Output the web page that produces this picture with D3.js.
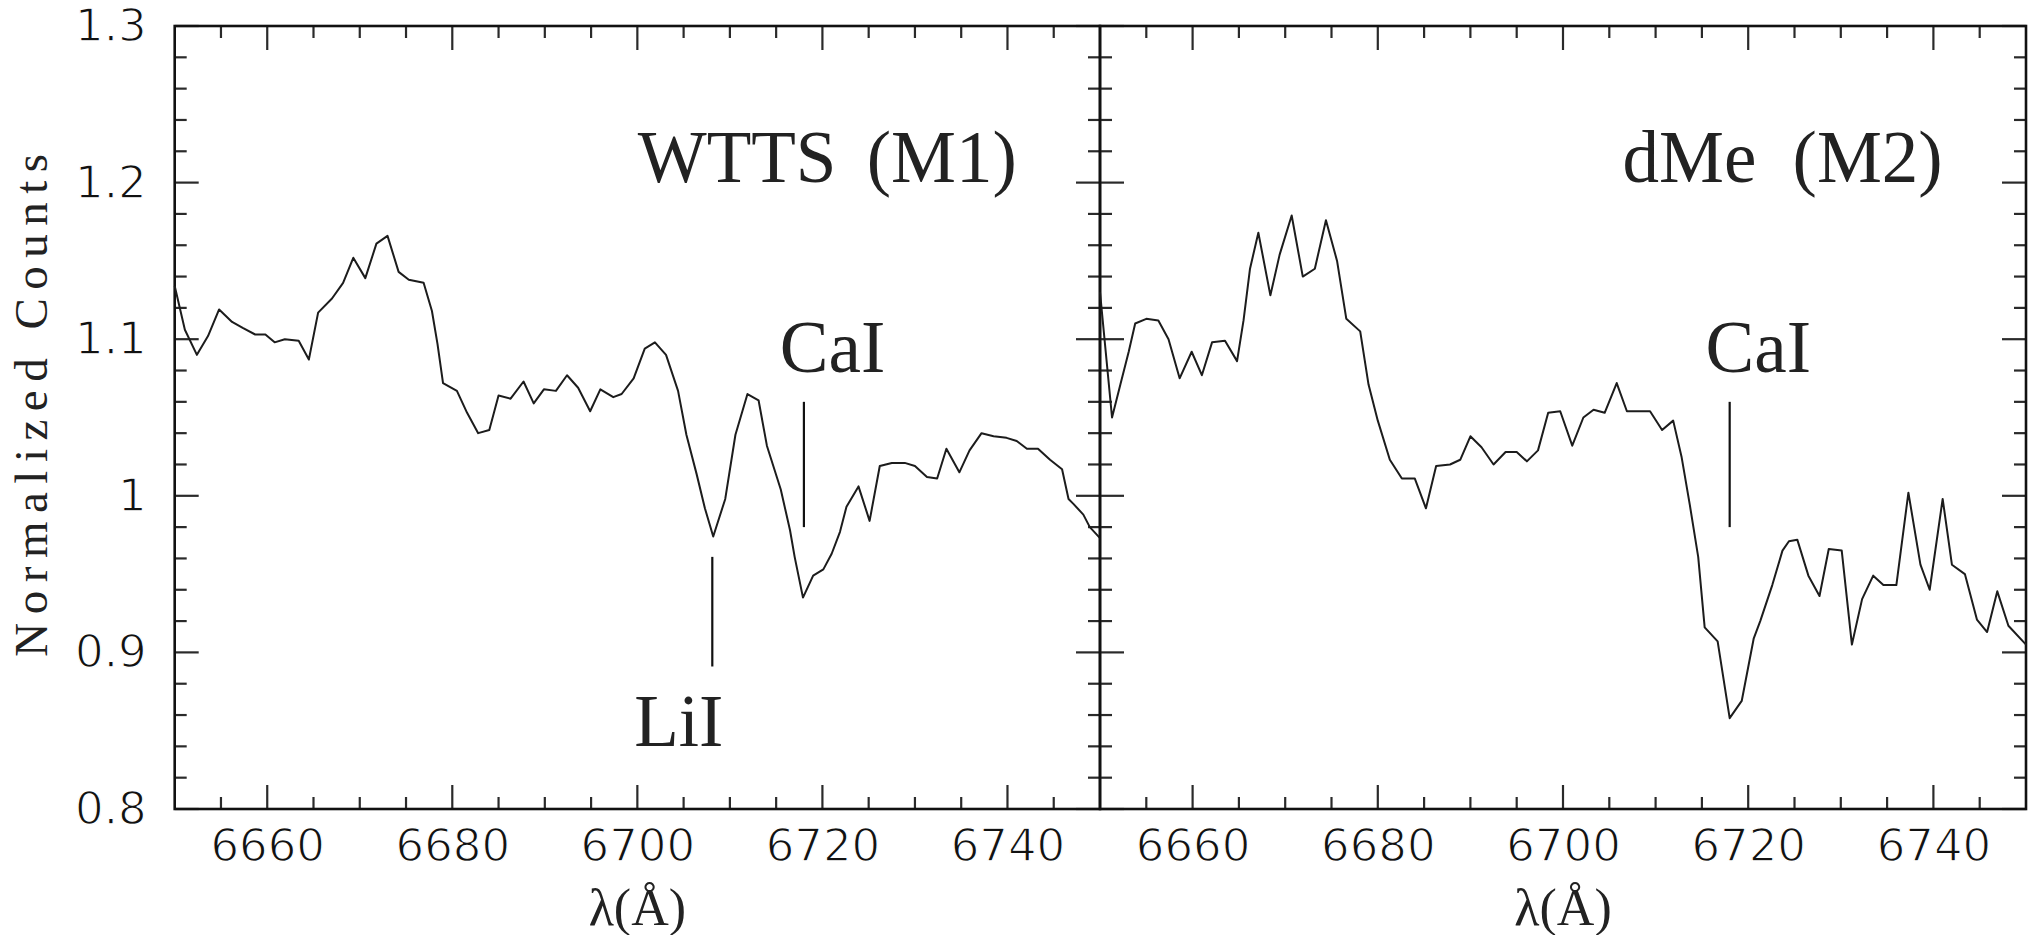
<!DOCTYPE html>
<html>
<head>
<meta charset="utf-8">
<script src="https://cdn.jsdelivr.net/npm/d3@7"></script>
<style>
  html, body { margin: 0; padding: 0; background: #fff; }
  svg { display: block; }
</style>
</head>
<body>
<script>
// ---- Spectra: wavelength (Angstrom) and normalized counts ----
const wttsWave = [6650.0, 6651.1, 6652.4, 6653.6, 6654.8, 6656.2, 6657.4, 6658.7, 6659.8, 6660.8,
  6661.9, 6663.4, 6664.5, 6665.5, 6667.0, 6668.2, 6669.3, 6670.6, 6671.8, 6673.0,
  6674.2, 6675.3, 6676.9, 6677.8, 6678.4, 6679.0, 6680.5, 6681.6, 6682.8, 6684.0,
  6685.0, 6686.3, 6687.7, 6688.8, 6689.9, 6691.2, 6692.4, 6693.6, 6694.9, 6696.0,
  6697.4, 6698.3, 6699.6, 6700.8, 6701.9, 6703.1, 6704.4, 6705.3, 6706.4, 6707.3,
  6708.2, 6709.5, 6710.6, 6711.9, 6713.1, 6714.0, 6715.5, 6716.5, 6717.0, 6717.9,
  6719.0, 6720.1, 6721.0, 6721.9, 6722.6, 6723.9, 6725.1, 6726.2, 6727.5, 6728.9,
  6730.0, 6731.3, 6732.4, 6733.4, 6734.8, 6735.9, 6737.2, 6738.5, 6739.9, 6741.0,
  6742.1, 6743.3, 6744.6, 6745.9, 6746.6, 6747.1, 6748.2, 6748.9, 6750.0];
const wttsFlux = [1.134, 1.106, 1.090, 1.102, 1.119, 1.111, 1.107, 1.103, 1.103, 1.098,
  1.100, 1.099, 1.087, 1.117, 1.126, 1.136, 1.152, 1.139, 1.161, 1.166,
  1.143, 1.138, 1.136, 1.118, 1.097, 1.072, 1.067, 1.053, 1.040, 1.042,
  1.064, 1.062, 1.073, 1.059, 1.068, 1.067, 1.077, 1.069, 1.054, 1.068,
  1.063, 1.065, 1.075, 1.094, 1.098, 1.090, 1.067, 1.039, 1.014, 0.992,
  0.974, 0.998, 1.039, 1.065, 1.061, 1.032, 1.004, 0.978, 0.961, 0.935,
  0.949, 0.953, 0.963, 0.977, 0.993, 1.006, 0.984, 1.019, 1.021, 1.021,
  1.019, 1.012, 1.011, 1.030, 1.015, 1.029, 1.040, 1.038, 1.037, 1.035,
  1.030, 1.030, 1.023, 1.017, 0.998, 0.995, 0.988, 0.980, 0.973];

const dmeWave = [6650.0, 6651.3, 6652.2, 6653.1, 6653.8, 6655.0, 6656.3, 6657.4, 6658.6, 6659.9,
  6661.0, 6662.1, 6663.5, 6664.8, 6665.5, 6666.2, 6667.1, 6668.4, 6669.4, 6670.7,
  6671.9, 6673.2, 6674.4, 6675.6, 6676.6, 6678.1, 6679.0, 6680.0, 6681.3, 6682.6,
  6684.0, 6685.2, 6686.3, 6687.8, 6688.9, 6690.0, 6691.2, 6692.5, 6693.8, 6695.0,
  6696.1, 6697.3, 6698.4, 6699.7, 6701.0, 6702.2, 6703.3, 6704.5, 6705.8, 6706.9,
  6708.1, 6709.4, 6710.7, 6711.9, 6712.8, 6713.7, 6714.6, 6715.3, 6716.7, 6718.0,
  6719.3, 6720.6, 6721.3, 6722.6, 6723.7, 6724.4, 6725.3, 6726.5, 6727.7, 6728.7,
  6730.1, 6731.2, 6732.3, 6733.5, 6734.6, 6736.0, 6737.3, 6738.6, 6739.6, 6741.0,
  6742.0, 6743.4, 6744.7, 6745.8, 6746.9, 6748.1, 6750.0];
const dmeFlux = [1.130, 1.050, 1.071, 1.092, 1.110, 1.113, 1.112, 1.100, 1.075, 1.092,
  1.077, 1.098, 1.099, 1.086, 1.112, 1.145, 1.168, 1.128, 1.154, 1.179,
  1.140, 1.145, 1.176, 1.150, 1.113, 1.105, 1.071, 1.048, 1.023, 1.011,
  1.011, 0.992, 1.019, 1.020, 1.023, 1.038, 1.031, 1.020, 1.028, 1.028,
  1.022, 1.029, 1.053, 1.054, 1.032, 1.050, 1.055, 1.053, 1.072, 1.054,
  1.054, 1.054, 1.042, 1.048, 1.025, 0.994, 0.961, 0.916, 0.907, 0.858,
  0.869, 0.909, 0.920, 0.943, 0.965, 0.971, 0.972, 0.949, 0.936, 0.966,
  0.965, 0.905, 0.934, 0.949, 0.943, 0.943, 1.002, 0.956, 0.940, 0.998,
  0.956, 0.950, 0.921, 0.913, 0.939, 0.917, 0.905];

// ---- Line identifications (wavelength, marker top / bottom in counts) ----
const wttsLines = [
  { label: "LiI", wave: 6708.1, top: 0.961, bottom: 0.891, side: "below" },
  { label: "CaI", wave: 6718.0, top: 1.060, bottom: 0.980, side: "above" }
];
const dmeLines = [
  { label: "CaI", wave: 6718.0, top: 1.060, bottom: 0.980, side: "above" }
];

// ---- Axes ----
const waveDomain = [6650, 6750];
const countDomain = [0.8, 1.3];
const waveTicks = [6660, 6680, 6700, 6720, 6740];
const waveTickLabels = ["6660", "6680", "6700", "6720", "6740"];
const countTicks = [0.8, 0.9, 1.0, 1.1, 1.2, 1.3];
const countTickLabels = ["0.8", "0.9", "1", "1.1", "1.2", "1.3"];
const panelTitles = ["WTTS (M1)", "dMe (M2)"];
const xTitle = "λ(Å)";
const yTitle = "Normalized Counts";

// ---- Layout ----
const W = 2036, H = 935;
const plotTop = 26, plotBottom = 809;
const panels = [
  { x0: 174.7, x1: 1100, wave: wttsWave, flux: wttsFlux, lines: wttsLines, title: panelTitles[0], yLabels: true },
  { x0: 1100, x1: 2026, wave: dmeWave, flux: dmeFlux, lines: dmeLines, title: panelTitles[1], yLabels: false }
];

const svg = d3.select("body").append("svg")
  .attr("width", W).attr("height", H)
  .attr("viewBox", `0 0 ${W} ${H}`);

const y = d3.scaleLinear().domain(countDomain).range([plotBottom, plotTop]);

const minorWave = d3.range(6655, 6750, 5).filter(v => v % 20 !== 0);
const minorCount = d3.range(0.82, 1.29, 0.02).map(v => +v.toFixed(2))
  .filter(v => Math.abs(v * 10 - Math.round(v * 10)) > 1e-6);

const MAJOR = 24, MINOR = 12;
const serif = '"Liberation Serif", "Times New Roman", serif';
const numFont = '"DejaVu Sans", sans-serif';

function styleLabels(g) {
  g.select(".domain").remove();
  g.selectAll(".tick line").remove();
  g.selectAll(".tick text")
    .attr("font-family", numFont).attr("font-size", 45)
    .attr("fill", "#111")
    .attr("stroke", "#fff").attr("stroke-width", 1.3);
}

panels.forEach(p => {
  const x = d3.scaleLinear().domain(waveDomain).range([p.x0, p.x1]);
  const g = svg.append("g");

  // tick marks on all four sides, pointing inward
  const tg = g.append("g").attr("stroke", "#2a2a2a").attr("stroke-width", 2.2);
  const xt = waveTicks.map(v => ({ v, len: MAJOR })).concat(minorWave.map(v => ({ v, len: MINOR })));
  const yt = countTicks.map(v => ({ v, len: MAJOR })).concat(minorCount.map(v => ({ v, len: MINOR })));
  tg.selectAll(".xb").data(xt).join("line").attr("class", "xb")
    .attr("x1", d => x(d.v)).attr("x2", d => x(d.v))
    .attr("y1", plotBottom).attr("y2", d => plotBottom - d.len);
  tg.selectAll(".xt").data(xt).join("line").attr("class", "xt")
    .attr("x1", d => x(d.v)).attr("x2", d => x(d.v))
    .attr("y1", plotTop).attr("y2", d => plotTop + d.len);
  tg.selectAll(".yl").data(yt).join("line").attr("class", "yl")
    .attr("y1", d => y(d.v)).attr("y2", d => y(d.v))
    .attr("x1", p.x0).attr("x2", d => p.x0 + d.len);
  tg.selectAll(".yr").data(yt).join("line").attr("class", "yr")
    .attr("y1", d => y(d.v)).attr("y2", d => y(d.v))
    .attr("x1", p.x1).attr("x2", d => p.x1 - d.len);

  // frame
  g.append("rect")
    .attr("x", p.x0).attr("y", plotTop)
    .attr("width", p.x1 - p.x0).attr("height", plotBottom - plotTop)
    .attr("fill", "none").attr("stroke", "#111").attr("stroke-width", 2.6);

  // tick labels
  const bAx = g.append("g").attr("transform", `translate(0,${plotBottom})`)
    .call(d3.axisBottom(x).tickValues(waveTicks).tickSize(0)
      .tickPadding(20).tickFormat((d, k) => waveTickLabels[k]));
  styleLabels(bAx);
  if (p.yLabels) {
    const lAx = g.append("g").attr("transform", `translate(${p.x0},0)`)
      .call(d3.axisLeft(y).tickValues(countTicks).tickSize(0)
        .tickPadding(28).tickFormat((d, k) => countTickLabels[k]));
    styleLabels(lAx);
  }

  // spectrum
  const pts = p.wave.map((w, k) => [w, p.flux[k]]);
  g.append("path")
    .datum(pts)
    .attr("fill", "none")
    .attr("stroke", "#1c1c1c")
    .attr("stroke-width", 2)
    .attr("stroke-linejoin", "round")
    .attr("d", d3.line().x(d => x(d[0])).y(d => y(d[1])));

  // line identifications
  p.lines.forEach(L => {
    g.append("line")
      .attr("x1", x(L.wave)).attr("x2", x(L.wave))
      .attr("y1", y(L.top)).attr("y2", y(L.bottom))
      .attr("stroke", "#111").attr("stroke-width", 2.2);
    const t = g.append("text")
      .attr("font-family", serif).attr("font-size", 73).attr("fill", "#222")
      .text(L.label);
    if (L.side === "above") {
      t.attr("x", x(L.wave - 2.6)).attr("y", y(L.top + 0.0193)).attr("text-anchor", "start");
    } else {
      t.attr("x", x(L.wave + 1.2)).attr("y", y(L.bottom - 0.051)).attr("text-anchor", "end");
    }
  });

  // panel title
  g.append("text")
    .attr("x", x(6741)).attr("y", y(1.2) - 1)
    .attr("text-anchor", "end")
    .attr("font-family", serif).attr("font-size", 73).attr("fill", "#222")
    .attr("word-spacing", p.yLabels ? 12 : 18)
    .text(p.title);

  // x-axis title
  g.append("text")
    .attr("x", (p.x0 + p.x1) / 2).attr("y", 925)
    .attr("text-anchor", "middle")
    .attr("font-family", serif).attr("font-size", 52).attr("fill", "#222")
    .text(xTitle);
});

// y-axis title
svg.append("text")
  .attr("transform", "translate(47,401) rotate(-90)")
  .attr("text-anchor", "middle")
  .attr("font-family", serif)
  .attr("font-size", 47).attr("letter-spacing", 8.5).attr("fill", "#222")
  .text(yTitle);
</script>
</body>
</html>
